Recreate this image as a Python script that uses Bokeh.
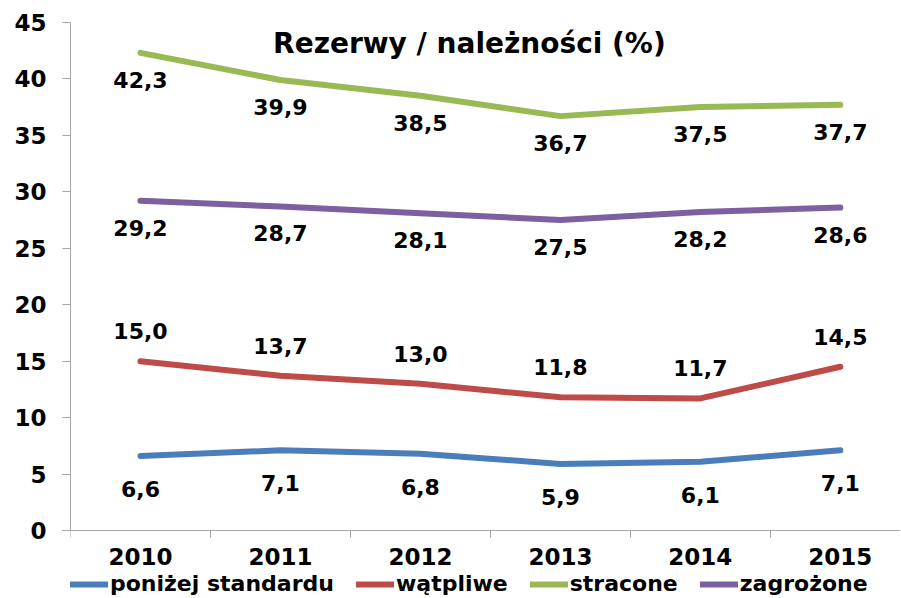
from bokeh.plotting import figure
from bokeh.models import ColumnDataSource, LabelSet, Label, Legend, LegendItem, FixedTicker, Range1d
from bokeh.core.properties import value
from bokeh.embed import file_html
from bokeh.resources import INLINE

years = ["2010", "2011", "2012", "2013", "2014", "2015"]
ponizej = [6.6, 7.1, 6.8, 5.9, 6.1, 7.1]
watpliwe = [15.0, 13.7, 13.0, 11.8, 11.7, 14.5]
stracone = [42.3, 39.9, 38.5, 36.7, 37.5, 37.7]
zagrozone = [29.2, 28.7, 28.1, 27.5, 28.2, 28.6]
y_ticks = [0, 5, 10, 15, 20, 25, 30, 35, 40, 45]

series = [
    ("poniżej standardu", ponizej, "#4a7ebb", 33),
    ("wątpliwe", watpliwe, "#be4b48", -30),
    ("stracone", stracone, "#98b954", 27),
    ("zagrożone", zagrozone, "#7d60a0", 27),
]

xs = list(range(len(years)))

p = figure(output_backend="svg", toolbar_location=None,
           x_range=Range1d(-0.5, 5.43), y_range=Range1d(-6.02, 45.7),
           min_border_left=70, min_border_right=0, min_border_top=14, min_border_bottom=0)
p.frame_width = 830
p.frame_height = 584
p.outline_line_color = None
p.grid.visible = False
p.background_fill_color = "white"
p.border_fill_color = "white"

FONT = "DejaVu Sans"

items = []
for name, vals, color, off in series:
    src = ColumnDataSource(dict(x=xs, y=vals, t=[f"{v:.1f}".replace(".", ",") for v in vals]))
    r = p.line("x", "y", source=src, line_color=color, line_width=6, line_cap="round", line_join="round")
    items.append(LegendItem(label=name, renderers=[r]))
    p.add_layout(LabelSet(x="x", y="y", text="t", source=src, y_offset=-off,
                          text_align="center", text_baseline="middle",
                          text_font=value(FONT), text_font_style="bold", text_font_size="22px",
                          text_color="black"))

# axes
p.yaxis.ticker = FixedTicker(ticks=y_ticks)
p.yaxis.bounds = (0, 45)
p.yaxis.major_label_text_font = FONT
p.yaxis.major_label_text_font_style = "bold"
p.yaxis.major_label_text_font_size = "23px"
p.yaxis.major_label_text_color = "black"
p.yaxis.axis_line_color = "#a6a6a6"
p.yaxis.major_tick_line_color = "#a6a6a6"
p.yaxis.major_tick_in = 0
p.yaxis.major_tick_out = 8
p.yaxis.minor_tick_line_color = None
p.yaxis.major_label_standoff = 16

p.xaxis.fixed_location = 0
p.xaxis.ticker = FixedTicker(ticks=xs, minor_ticks=[i - 0.5 for i in range(len(years) + 1)])
p.xaxis.major_label_overrides = {i: y for i, y in enumerate(years)}
p.xaxis.major_label_text_font = FONT
p.xaxis.major_label_text_font_style = "bold"
p.xaxis.major_label_text_font_size = "23px"
p.xaxis.major_label_text_color = "black"
p.xaxis.axis_line_color = "#a6a6a6"
p.xaxis.major_tick_line_color = None
p.xaxis.major_tick_in = 0
p.xaxis.major_tick_out = 7
p.xaxis.minor_tick_line_color = "#a6a6a6"
p.xaxis.minor_tick_in = 0
p.xaxis.minor_tick_out = 7
p.xaxis.major_label_standoff = 10

p.add_layout(Label(x=2.35, y=43.16, text="Rezerwy / należności (%)", text_align="center",
                   text_baseline="alphabetic", text_font=FONT, text_font_style="bold",
                   text_font_size="28px", text_color="black"))

legend = Legend(items=items, orientation="horizontal", location=(0, 2),
                label_text_font=FONT, label_text_font_style="bold", label_text_font_size="22px",
                label_text_color="black", glyph_width=38, glyph_height=14, label_standoff=2,
                spacing=22, padding=0, margin=0, border_line_color=None,
                background_fill_alpha=0)
p.add_layout(legend, "center")

open("out.html", "w").write(file_html(p, INLINE))
